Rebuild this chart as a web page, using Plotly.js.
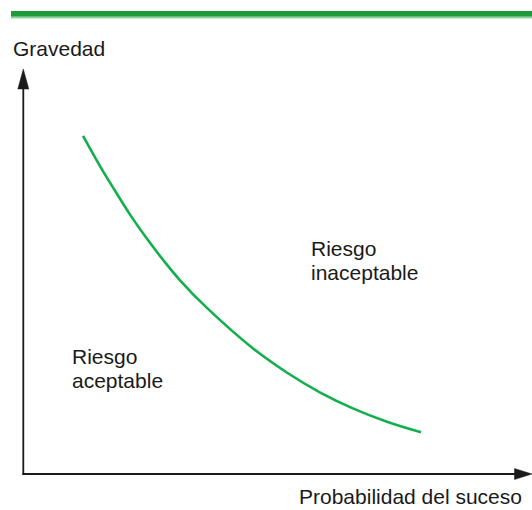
<!DOCTYPE html>
<html>
<head>
<meta charset="utf-8">
<script src="https://cdn.plot.ly/plotly-3.0.1.min.js"></script>
<style>html,body{margin:0;padding:0;background:#fff;}#chart{width:532px;height:510px;}</style>
</head>
<body>
<div id="chart"></div>
<script>
// Data (arbitrary units: probability 0-10, severity 0-10)
const curveProbability = [1.18, 1.51, 1.77, 2.10, 2.44, 2.75, 3.08, 3.64, 4.52, 5.19, 5.84, 6.48, 7.15, 7.82];
const curveSeverity    = [8.35, 7.61, 7.07, 6.41, 5.80, 5.29, 4.79, 4.07, 3.10, 2.50, 2.01, 1.62, 1.29, 1.03];
const yAxisLabel = "Gravedad";
const xAxisLabel = "Probabilidad del suceso";
const regionHigh = ["Riesgo", "inaceptable"];
const regionLow  = ["Riesgo", "aceptable"];

// Layout geometry (pixels)
const W = 532, H = 510;
const L = 23, R = 0, T = 69, B = 36;
const pw = W - L - R, ph = H - T - B;
const px = x => (x - L) / pw;
const py = y => (H - B - y) / ph;

const font = {family: "Liberation Sans, Arial, sans-serif", size: 21, color: "#1a1a1a"};
const ink = "#1a1a1a";

const ann = (text, x, y, xanchor) => ({
  text: text, xref: "paper", yref: "paper", x: px(x), y: py(y),
  xanchor: xanchor, yanchor: "middle", showarrow: false, font: font
});

const annotations = [
  ann(yAxisLabel, 11, 48, "left"),
  ann(xAxisLabel, 524, 497, "right"),
  ann(regionHigh[0], 309, 248, "left"),
  ann(regionHigh[1], 309, 272, "left"),
  ann(regionLow[0], 70, 356, "left"),
  ann(regionLow[1], 70, 380, "left")
];

const shapes = [
  // top green band
  {type: "rect", xref: "paper", yref: "paper", x0: px(11), x1: px(532), y0: py(16.7), y1: py(11), fillcolor: "#1f9a3b", line: {width: 0}},
  {type: "rect", xref: "paper", yref: "paper", x0: px(11), x1: px(532), y0: py(18.5), y1: py(16.7), fillcolor: "#8fd3a0", line: {width: 0}},
  // y axis line + arrowhead
  {type: "line", xref: "paper", yref: "paper", x0: px(23.3), x1: px(23.3), y0: py(474.8), y1: py(86), line: {color: ink, width: 1.8}},
  {type: "path", xref: "paper", yref: "paper",
   path: `M ${px(17.8)},${py(89)} L ${px(23.3)},${py(69)} L ${px(28.8)},${py(89)} Z`,
   fillcolor: ink, line: {color: ink, width: 0.5}},
  // x axis line + arrowhead
  {type: "line", xref: "paper", yref: "paper", x0: px(22.4), x1: px(518), y0: py(474), y1: py(474), line: {color: ink, width: 1.8}},
  {type: "path", xref: "paper", yref: "paper",
   path: `M ${px(514.5)},${py(468.5)} L ${px(532)},${py(474)} L ${px(514.5)},${py(479.5)} Z`,
   fillcolor: ink, line: {color: ink, width: 0.5}}
];

const trace = {
  x: curveProbability, y: curveSeverity, type: "scatter", mode: "lines",
  line: {color: "#12b04c", width: 2.6, shape: "spline", smoothing: 1},
  hoverinfo: "skip"
};

const layout = {
  width: W, height: H,
  margin: {l: L, r: R, t: T, b: B, pad: 0},
  paper_bgcolor: "#ffffff", plot_bgcolor: "#ffffff",
  showlegend: false, hovermode: false,
  xaxis: {range: [0, 10], visible: false, fixedrange: true},
  yaxis: {range: [0, 10], visible: false, fixedrange: true},
  shapes: shapes, annotations: annotations
};

Plotly.newPlot("chart", [trace], layout, {staticPlot: true, displayModeBar: false});
</script>
</body>
</html>
